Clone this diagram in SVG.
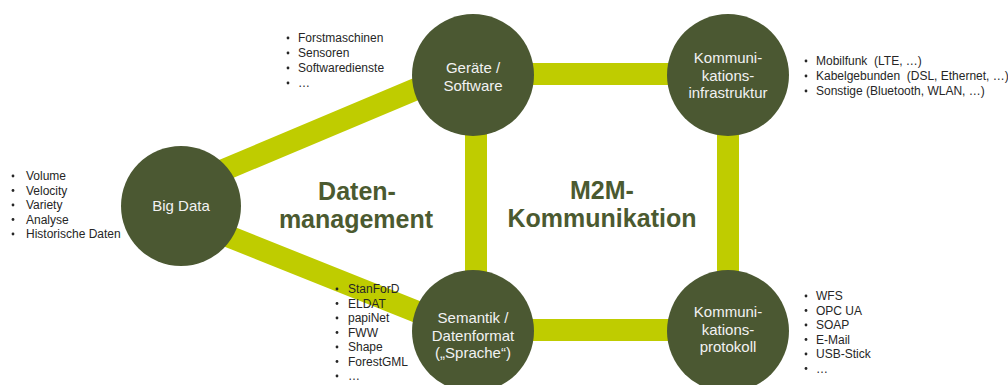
<svg xmlns="http://www.w3.org/2000/svg" width="1008" height="385" viewBox="0 0 1008 385">
  <style>
    .bar { stroke: #bfcc00; stroke-width: 22; fill: none; stroke-linecap: butt; }
    .node { fill: #4b5832; }
    .label { font-family: "Liberation Sans", Arial, sans-serif; font-size: 15px; fill: #f2f2f2; text-anchor: middle; }
    .title { font-family: "Liberation Sans", Arial, sans-serif; font-size: 25px; font-weight: bold; fill: #4b5a30; text-anchor: middle; }
    .list { font-family: "Liberation Sans", Arial, sans-serif; font-size: 12px; fill: #262626; }
    .dot { fill: #262626; }
  </style>
  <rect width="1008" height="385" fill="#ffffff"/>

  <!-- connecting bars -->
  <g id="connectors">
    <line class="bar" x1="200" y1="180" x2="440" y2="79"/>
    <line class="bar" x1="200" y1="225" x2="440" y2="321"/>
    <line class="bar" x1="473" y1="74" x2="728" y2="74"/>
    <line class="bar" x1="473" y1="330" x2="728" y2="330"/>
    <line class="bar" x1="476" y1="75" x2="476" y2="331"/>
    <line class="bar" x1="728" y1="75" x2="728" y2="331"/>
  </g>

  <!-- area titles -->
  <g id="title-datenmanagement">
    <text class="title" x="357" y="200">Daten-</text>
    <text class="title" x="356" y="228">management</text>
  </g>
  <g id="title-m2m">
    <text class="title" x="602" y="199">M2M-</text>
    <text class="title" x="602" y="227">Kommunikation</text>
  </g>

  <g id="node-bigdata">
    <circle class="node" cx="181" cy="206" r="60"/>
    <text class="label" x="181" y="211">Big Data</text>
  </g>

  <g id="node-geraete">
    <circle class="node" cx="473" cy="75" r="61"/>
    <text class="label" x="473" y="73">Geräte /</text>
    <text class="label" x="473" y="90.5">Software</text>
  </g>

  <g id="node-infrastruktur">
    <circle class="node" cx="728" cy="75" r="61"/>
    <text class="label" x="728" y="63">Kommuni-</text>
    <text class="label" x="728" y="80.5">kations-</text>
    <text class="label" x="728" y="98">infrastruktur</text>
  </g>

  <g id="node-semantik">
    <circle class="node" cx="473" cy="331" r="61"/>
    <text class="label" x="473" y="323">Semantik /</text>
    <text class="label" x="473" y="340.5">Datenformat</text>
    <text class="label" x="473" y="358">(„Sprache“)</text>
  </g>

  <g id="node-protokoll">
    <circle class="node" cx="728" cy="331" r="61"/>
    <text class="label" x="728" y="317">Kommuni-</text>
    <text class="label" x="728" y="334.5">kations-</text>
    <text class="label" x="728" y="352">protokoll</text>
  </g>

  <!-- bullet lists -->
  <g id="list-geraete">
    <circle class="dot" cx="288" cy="38" r="1.4"/><text class="list" x="298" y="42">Forstmaschinen</text>
    <circle class="dot" cx="288" cy="53" r="1.4"/><text class="list" x="298" y="57">Sensoren</text>
    <circle class="dot" cx="288" cy="68" r="1.4"/><text class="list" x="298" y="72">Softwaredienste</text>
    <circle class="dot" cx="288" cy="83" r="1.4"/><text class="list" x="298" y="87">…</text>
  </g>

  <g id="list-bigdata">
    <circle class="dot" cx="13" cy="176" r="1.4"/><text class="list" x="26" y="180">Volume</text>
    <circle class="dot" cx="13" cy="190.5" r="1.4"/><text class="list" x="26" y="194.5">Velocity</text>
    <circle class="dot" cx="13" cy="205" r="1.4"/><text class="list" x="26" y="209">Variety</text>
    <circle class="dot" cx="13" cy="219.5" r="1.4"/><text class="list" x="26" y="223.5">Analyse</text>
    <circle class="dot" cx="13" cy="234" r="1.4"/><text class="list" x="26" y="238">Historische Daten</text>
  </g>

  <g id="list-semantik">
    <circle class="dot" cx="337" cy="289" r="1.4"/><text class="list" x="348" y="293">StanForD</text>
    <circle class="dot" cx="337" cy="303.5" r="1.4"/><text class="list" x="348" y="307.5">ELDAT</text>
    <circle class="dot" cx="337" cy="318" r="1.4"/><text class="list" x="348" y="322">papiNet</text>
    <circle class="dot" cx="337" cy="332.5" r="1.4"/><text class="list" x="348" y="336.5">FWW</text>
    <circle class="dot" cx="337" cy="347" r="1.4"/><text class="list" x="348" y="351">Shape</text>
    <circle class="dot" cx="337" cy="361.5" r="1.4"/><text class="list" x="348" y="365.5">ForestGML</text>
    <circle class="dot" cx="337" cy="376" r="1.4"/><text class="list" x="348" y="380">…</text>
  </g>

  <g id="list-infrastruktur">
    <circle class="dot" cx="806" cy="61" r="1.4"/><text class="list" x="816" y="65" xml:space="preserve">Mobilfunk  (LTE, …)</text>
    <circle class="dot" cx="806" cy="76" r="1.4"/><text class="list" x="816" y="80" xml:space="preserve">Kabelgebunden  (DSL, Ethernet, …)</text>
    <circle class="dot" cx="806" cy="91" r="1.4"/><text class="list" x="816" y="95">Sonstige (Bluetooth, WLAN, …)</text>
  </g>

  <g id="list-protokoll">
    <circle class="dot" cx="806" cy="296" r="1.4"/><text class="list" x="816" y="300">WFS</text>
    <circle class="dot" cx="806" cy="310.5" r="1.4"/><text class="list" x="816" y="314.5">OPC UA</text>
    <circle class="dot" cx="806" cy="325" r="1.4"/><text class="list" x="816" y="329">SOAP</text>
    <circle class="dot" cx="806" cy="339.5" r="1.4"/><text class="list" x="816" y="343.5">E-Mail</text>
    <circle class="dot" cx="806" cy="354" r="1.4"/><text class="list" x="816" y="358">USB-Stick</text>
    <circle class="dot" cx="806" cy="368.5" r="1.4"/><text class="list" x="816" y="372.5">…</text>
  </g>
</svg>
